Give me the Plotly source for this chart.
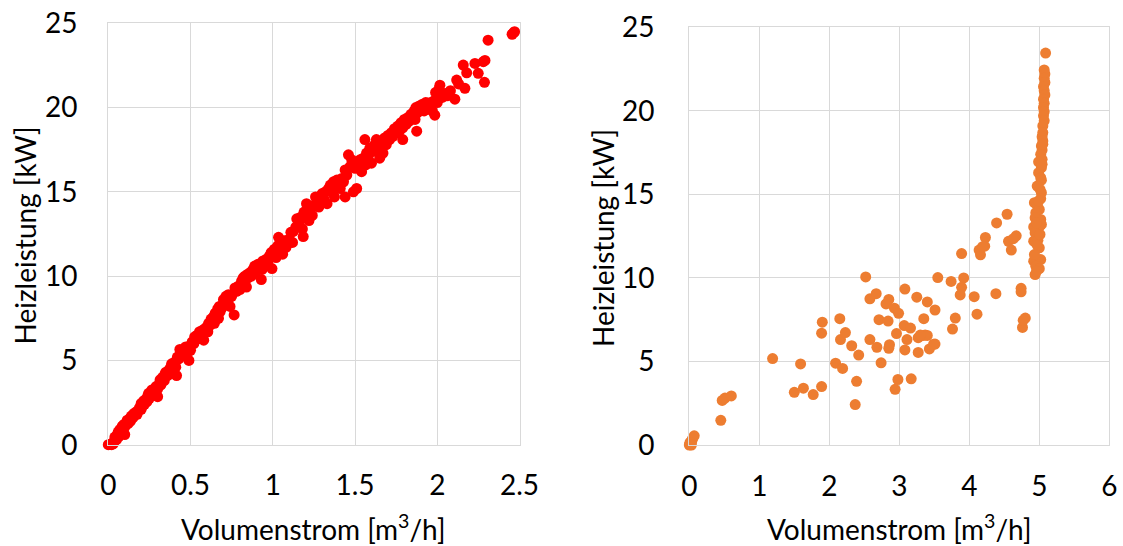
import plotly.graph_objects as go

# ---------------- Left chart (red) ----------------
left_x = [
    0.0, 0.01, 0.02, 0.03, 0.035, 0.04, 0.05, 0.055, 0.06, 0.065, 0.07, 0.08, 0.085, 0.09, 0.095, 0.1, 0.1,
    0.11, 0.115, 0.12, 0.13, 0.135, 0.14, 0.15, 0.155, 0.16, 0.17, 0.175, 0.18, 0.19, 0.2, 0.2, 0.21, 0.215, 0.22,
    0.23, 0.235, 0.24, 0.245, 0.25, 0.26, 0.265, 0.27, 0.28, 0.285, 0.29, 0.3, 0.3,
    0.31, 0.315, 0.32, 0.33, 0.34, 0.345, 0.35, 0.36, 0.37, 0.375, 0.38, 0.385, 0.39, 0.4, 0.405, 0.41, 0.415,
    0.415, 0.42, 0.43, 0.435, 0.44, 0.45, 0.46, 0.47, 0.47, 0.48, 0.49, 0.49, 0.5, 0.5,
    0.51, 0.52, 0.525, 0.53, 0.54, 0.55, 0.555, 0.56, 0.57, 0.575, 0.58, 0.59, 0.6, 0.605, 0.61, 0.62, 0.625,
    0.63, 0.64, 0.645, 0.65, 0.66, 0.665, 0.67, 0.675, 0.68, 0.69, 0.7, 0.705, 0.71, 0.715, 0.72, 0.73, 0.735,
    0.74, 0.75, 0.765, 0.77, 0.78, 0.79, 0.8,
    0.81, 0.82, 0.83, 0.84, 0.845, 0.85, 0.86, 0.87, 0.88, 0.885, 0.89, 0.9, 0.91, 0.92, 0.93, 0.935, 0.94,
    0.95, 0.96, 0.97, 0.98, 0.99, 0.995, 1.0, 1.01, 1.02, 1.03, 1.035, 1.04, 1.05, 1.06, 1.065, 1.07, 1.08,
    1.09, 1.1,
    1.11, 1.12, 1.125, 1.14, 1.146, 1.16, 1.17, 1.18, 1.185, 1.19, 1.2, 1.205, 1.21, 1.22, 1.23, 1.24, 1.25,
    1.26, 1.27, 1.28, 1.29, 1.3, 1.31, 1.32, 1.33, 1.34, 1.35, 1.36, 1.37, 1.375, 1.38, 1.39, 1.4, 1.41, 1.42,
    1.43, 1.44, 1.44, 1.45, 1.46, 1.47, 1.48, 1.49, 1.49, 1.5,
    1.51, 1.52, 1.53, 1.54, 1.55, 1.56, 1.565, 1.57, 1.58, 1.59, 1.6, 1.61, 1.62, 1.63, 1.64, 1.65, 1.66,
    1.67, 1.68, 1.69, 1.7, 1.71, 1.72, 1.73, 1.74, 1.75, 1.76, 1.77, 1.78, 1.79, 1.79, 1.8, 1.81, 1.82, 1.83,
    1.84, 1.85, 1.86, 1.865, 1.87, 1.875, 1.88, 1.89, 1.9,
    1.91, 1.92, 1.93, 1.935, 1.94, 1.95, 1.96, 1.97, 1.98, 1.985, 1.99, 2.0, 2.01, 2.016, 2.03, 2.047, 2.06,
    2.08, 2.107, 2.118, 2.13, 2.158, 2.168, 2.179, 2.229, 2.249, 2.28, 2.287, 2.29, 2.309, 2.455, 2.465, 2.47,
]
left_y = [
    0.0, 0.02, 0.0, 0.05, 0.2, 0.45, 0.3, 0.6, 0.75, 0.5, 0.9, 0.85, 1.1, 0.95, 1.2, 1.05, 0.6,
    1.3, 1.45, 1.25, 1.55, 1.4, 1.7, 1.6, 1.85, 1.75, 1.95, 1.8, 2.0, 2.2, 2.1, 2.45, 2.35, 2.6, 2.4,
    2.7, 2.55, 2.9, 3.05, 2.75, 3.0, 3.25, 3.1, 3.3, 2.95, 3.45, 3.3, 2.85,
    3.6, 3.85, 3.55, 4.0, 3.8, 4.2, 4.3, 4.1, 4.45, 4.2, 4.6, 4.8, 4.5, 4.75, 4.9, 4.6, 5.0,
    4.1, 5.2, 5.1, 5.65, 5.35, 5.3, 5.55, 5.4, 5.8, 5.7, 5.55, 5.0, 5.9, 5.6,
    6.1, 6.0, 6.4, 6.2, 6.5, 6.3, 6.7, 6.55, 6.4, 6.8, 6.2, 6.9, 7.0, 6.7, 7.2, 7.1, 7.45,
    7.3, 7.6, 7.2, 7.8, 7.7, 8.05, 7.5, 8.2, 7.9, 8.1, 8.6, 8.3, 8.5, 8.8, 8.4, 8.9, 8.7,
    8.2, 8.8, 7.7, 9.3, 9.1, 9.4, 9.2,
    9.7, 9.9, 10.0, 9.35, 10.1, 9.9, 10.2, 10.0, 10.4, 10.15, 10.6, 10.3, 10.7, 10.5, 9.8, 10.4, 10.9,
    10.7, 11.0, 10.8, 11.2, 11.4, 10.45, 11.3, 11.6, 11.1, 11.8, 12.3, 11.5, 12.0, 11.3, 11.8, 12.1, 11.7,
    11.9, 12.2,
    12.6, 12.0, 12.65, 12.9, 13.4, 13.1, 13.5, 12.8, 12.35, 13.8, 13.5, 14.3, 13.9, 13.3, 14.0, 13.6, 14.2,
    14.7, 14.4, 14.1, 14.5, 14.9, 14.6, 15.0, 14.3, 15.2, 15.4, 15.0, 15.6, 14.7, 15.3, 15.7, 15.5, 15.2, 15.8,
    15.6, 14.7, 16.3, 16.0, 17.2, 16.5, 16.9, 16.7, 15.0, 16.4,
    15.2, 16.6, 16.9, 16.2, 17.0, 18.1, 16.6, 17.3, 17.0, 17.6, 16.7, 17.4, 17.8, 18.1, 17.5, 17.0, 17.9,
    17.3, 18.2, 17.8, 18.35, 18.1, 18.5, 18.3, 18.75, 18.5, 18.9, 18.6, 19.1, 18.1, 18.8, 19.3, 19.0, 19.4, 19.2,
    19.6, 19.4, 19.8, 19.3, 20.0, 18.6, 19.7, 20.1, 19.9,
    20.2, 19.8, 20.3, 19.9, 20.25, 20.0, 20.3, 19.8, 20.4, 19.55, 20.9, 20.3, 21.1, 21.33, 20.6, 20.84, 20.7,
    21.0, 20.5, 21.63, 21.4, 22.52, 21.14, 22.06, 22.62, 22.03, 22.72, 21.5, 22.8, 24.0, 24.35, 24.45, 24.5,
]

# ---------------- Right chart (orange) ----------------
right_x = [
    0.0, 0.01, 0.02, 0.03, 0.04, 0.05, 0.07, 0.01, 0.03,
    0.45, 0.47, 0.51, 0.60,
    1.19, 1.59, 1.50, 1.63, 1.77, 1.89, 1.90, 1.89, 2.15, 2.16, 2.23, 2.09, 2.19, 2.32, 2.42, 2.39, 2.37,
    2.52, 2.58, 2.67, 2.58, 2.68, 2.71, 2.74, 2.85, 2.81, 2.84, 2.86, 2.85, 2.93, 2.99, 2.96, 2.98, 2.94,
    3.08, 3.07, 3.16, 3.11, 3.08, 3.17, 3.25, 3.27, 3.27, 3.35, 3.34, 3.40, 3.40, 3.51, 3.51, 3.43, 3.37,
    3.30, 3.49, 3.55, 3.74, 3.76, 3.80, 3.89, 3.92, 3.89, 3.87, 4.07, 4.11, 4.14, 4.16, 4.23, 4.22, 4.19,
    4.39, 4.54, 4.38, 4.56, 4.60, 4.67, 4.63, 4.74, 4.74, 4.80, 4.76, 4.77,
    5.09, 5.07, 5.08, 5.07, 5.08, 5.06, 5.07, 5.08, 5.06, 5.07, 5.06, 5.07, 5.06, 5.07, 5.05, 5.05, 5.04,
    5.05, 5.03, 5.04, 5.02, 5.04, 4.99, 5.03, 4.99, 5.02, 5.03, 4.97, 5.01, 5.03, 5.02, 4.93, 4.97, 5.00,
    4.95, 5.02, 4.94, 5.03, 5.00, 4.92, 4.94, 4.98, 4.92, 4.98, 5.00, 4.97, 4.92, 5.02, 4.95, 5.00, 4.94,
    4.96, 4.93, 5.01, 4.96, 4.99, 5.04, 5.05,
]
right_y = [
    0.0, 0.05, 0.1, 0.2, 0.3, 0.4, 0.55, 0.15, 0.0,
    1.48, 2.67, 2.81, 2.94,
    5.17, 4.85, 3.15, 3.40, 3.02, 3.5, 7.35, 6.69, 7.56, 6.31, 6.73, 4.9, 4.58, 5.94, 5.38, 3.81, 2.42,
    10.06, 8.75, 9.06, 6.31, 5.85, 7.5, 4.92, 8.71, 8.44, 7.42, 6.0, 5.79, 8.19, 7.88, 6.67, 3.92, 3.33,
    9.33, 7.15, 7.0, 6.31, 5.69, 3.96, 8.85, 6.42, 5.54, 7.56, 6.56, 8.56, 6.56, 8.08, 6.04, 5.75, 6.58,
    6.58, 6.03, 10.02, 9.79, 6.94, 7.6, 11.46, 10.0, 9.44, 8.98, 8.88, 7.83, 11.67, 11.38, 12.42, 11.9, 11.87,
    13.29, 13.81, 9.06, 12.19, 11.67, 12.52, 12.35, 9.38, 9.17, 7.6, 7.04, 7.46,
    23.46, 22.45, 22.2, 21.95, 21.7, 21.45, 21.2, 20.95, 20.7, 20.45, 20.2, 19.95, 19.7, 19.4, 19.1, 18.7, 18.45,
    18.2, 17.9, 17.65, 17.4, 17.1, 16.95, 16.6, 16.3, 16.0, 15.85, 15.5, 15.3, 15.1, 14.75, 14.5, 14.35, 14.1,
    13.9, 13.5, 13.6, 13.2, 13.05, 13.05, 12.7, 12.45, 12.2, 12.25, 11.8, 11.95, 11.0, 11.1, 10.7, 10.55, 10.2,
    10.4, 11.4, 12.6, 13.3, 14.6, 16.8, 18.0,
]

x_title = "Volumenstrom [m<sup>3</sup>/h]"
y_title = "Heizleistung [kW]"

W, H = 1123, 546
FONT = "Lato"
FS = 28
GRID = "#d9d9d9"

fig = go.Figure()
fig.add_trace(go.Scatter(x=left_x, y=left_y, mode="markers", cliponaxis=False,
                         marker=dict(color="#ff0000", size=11), xaxis="x", yaxis="y", showlegend=False))
fig.add_trace(go.Scatter(x=right_x, y=right_y, mode="markers", cliponaxis=False,
                         marker=dict(color="#ed7d31", size=11), xaxis="x2", yaxis="y2", showlegend=False))

def ax(**kw):
    base = dict(showgrid=True, gridcolor=GRID, gridwidth=1.3, zeroline=False, automargin=False,
                showline=True, linecolor=GRID, linewidth=1.3, mirror=True,
                ticks="", tickfont=dict(family=FONT, size=FS, color="#000000"))
    base.update(kw)
    return base

fig.update_layout(
    width=W, height=H,
    margin=dict(l=0, r=0, t=0, b=0),
    paper_bgcolor="white", plot_bgcolor="white",
    font=dict(family=FONT, size=FS, color="#000000"),
    xaxis=ax(domain=[108.3 / W, 519.5 / W], range=[0, 2.5], dtick=0.5, tick0=0, anchor="y",
             ticklabelstandoff=16),
    yaxis=ax(domain=[(H - 444.7) / H, (H - 23.3) / H], range=[0, 25], dtick=5, tick0=0, anchor="x",
             ticklabelstandoff=24),
    xaxis2=ax(domain=[689.3 / W, 1109.3 / W], range=[0, 6], dtick=1, tick0=0, anchor="y2",
              ticklabelstandoff=16),
    yaxis2=ax(domain=[(H - 445) / H, (H - 27.3) / H], range=[0, 25], dtick=5, tick0=0, anchor="x2",
              ticklabelstandoff=28),
    annotations=[
        dict(text=x_title, x=313.9 / W, y=(H - 527) / H, xref="paper", yref="paper",
             showarrow=False, xanchor="center", yanchor="middle", font=dict(family=FONT, size=FS)),
        dict(text=x_title, x=899.3 / W, y=(H - 527) / H, xref="paper", yref="paper",
             showarrow=False, xanchor="center", yanchor="middle", font=dict(family=FONT, size=FS)),
        dict(text=y_title, x=24 / W, y=(H - 235.5) / H, xref="paper", yref="paper", textangle=-90,
             showarrow=False, xanchor="center", yanchor="middle", font=dict(family=FONT, size=FS)),
        dict(text=y_title, x=603 / W, y=(H - 238) / H, xref="paper", yref="paper", textangle=-90,
             showarrow=False, xanchor="center", yanchor="middle", font=dict(family=FONT, size=FS)),
    ],
)

fig.write_html("out.html", config={"displayModeBar": False},
               post_script="document.body.style.margin='0px';")
